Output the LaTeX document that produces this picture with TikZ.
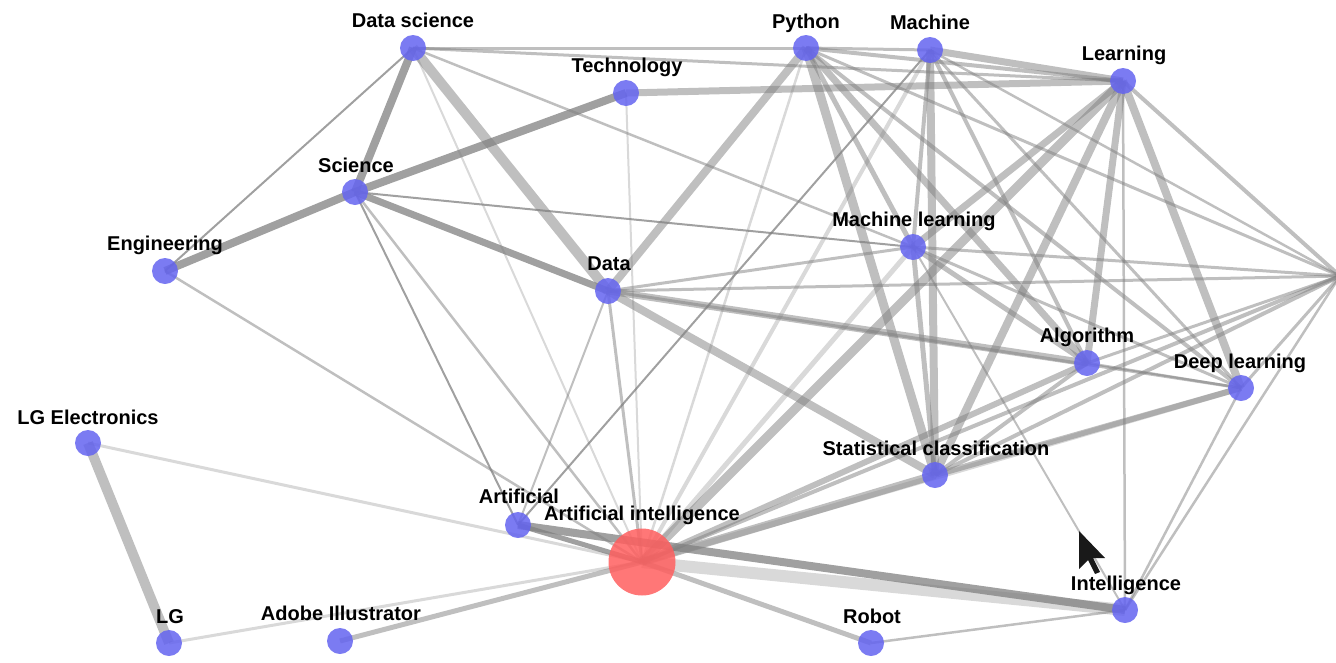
\documentclass[tikz,border=0pt]{standalone}
\usepackage{fontspec}
\setmainfont{Liberation Sans}
\usetikzlibrary{backgrounds}
\definecolor{kwblue}{RGB}{100,100,240}
\definecolor{aired}{RGB}{255,95,95}
\definecolor{linkgray}{RGB}{128,128,128}
\begin{document}
\begin{tikzpicture}[x=1pt,y=-1pt,
  kw/.style={circle,fill=kwblue,fill opacity=.85,minimum size=26pt,inner sep=0pt},
  hub/.style={circle,fill=aired,fill opacity=.85,minimum size=67pt,inner sep=0pt},
  lbl/.style={font=\bfseries\fontsize{20}{24}\selectfont,anchor=base,inner sep=0pt,text=black},
  lite/.style={draw=linkgray,draw opacity=.5,line width=#1pt},
  dark/.style={draw=linkgray,draw opacity=.75,line width=#1pt},
  faint/.style={draw=linkgray,draw opacity=.3,line width=#1pt},
  pointer/.style={fill=black!90,draw=none}]
\useasboundingbox (0,0) rectangle (1336,662);

% keyword nodes
\node[kw] (DS) at (413,48) {};
\node[kw] (TE) at (626,93) {};
\node[kw] (SC) at (355,192) {};
\node[kw] (EN) at (165,271) {};
\node[kw] (LGE) at (88,443) {};
\node[kw] (PY) at (806,48) {};
\node[kw] (MA) at (930,50) {};
\node[kw] (LE) at (1123,81) {};
\node[kw] (ML) at (913,247) {};
\node[kw] (DA) at (608,291) {};
\node[kw] (AL) at (1087,363) {};
\node[kw] (DL) at (1241,388) {};
\node[kw] (ST) at (935,475) {};
\node[kw] (AR) at (518,525) {};
\node[kw] (IN) at (1125,610) {};
\node[kw] (RO) at (871,643) {};
\node[kw] (LG) at (169,643) {};
\node[kw] (AD) at (340,641) {};
\node[hub] (AI) at (642,562) {};
\coordinate (RT) at (1340,276);

% labels
\node[lbl] (DS-t) at (413,27) {Data science};
\node[lbl] (TE-t) at (627,72) {Technology};
\node[lbl] (SC-t) at (356,172) {Science};
\node[lbl] (EN-t) at (165,250) {Engineering};
\node[lbl] (LGE-t) at (88,424) {LG Electronics};
\node[lbl] (PY-t) at (806,28) {Python};
\node[lbl] (MA-t) at (930,29) {Machine};
\node[lbl] (LE-t) at (1124,60) {Learning};
\node[lbl] (ML-t) at (914,226) {Machine learning};
\node[lbl] (DA-t) at (609,270) {Data};
\node[lbl] (AL-t) at (1087,342) {Algorithm};
\node[lbl] (DL-t) at (1240,368) {Deep learning};
\node[lbl] (ST-t) at (936,455) {Statistical classification};
\node[lbl] (AR-t) at (519,503) {Artificial};
\node[lbl] (AI-t) at (642,520) {Artificial intelligence};
\node[lbl] (IN-t) at (1126,590) {Intelligence};
\node[lbl] (RO-t) at (872,623) {Robot};
\node[lbl] (LG-t) at (170,623) {LG};
\node[lbl] (AD-t) at (341,620) {Adobe Illustrator};

% links, drawn behind the nodes
\begin{pgfonlayer}{background}
\clip (0,0) rectangle (1336,662);
\foreach \a/\b/\w in {
  DS/DA/10, DS/PY/3, DS/LE/3, DS/ML/2.5,
  TE/LE/7, SC/AI/2.5, EN/AI/2.5,
  DA/PY/8, DA/ML/3, DA/RT/3, DA/AL/7, DA/DL/3, DA/ST/8, DA/AR/2, DA/AI/3,
  PY/MA/3, PY/LE/4, PY/ST/9, PY/AL/7, PY/ML/5, PY/DL/4, PY/RT/3,
  MA/LE/7, MA/ML/4, MA/ST/8, MA/AL/4, MA/DL/3, MA/RT/2.5,
  LE/ML/7, LE/AI/9, LE/ST/8, LE/AL/7, LE/IN/2.5, LE/DL/8, LE/RT/4,
  ML/AL/5, ML/DL/3, ML/RT/3, ML/ST/5, ML/IN/2,
  AL/DL/2.5, AL/ST/4, AL/AI/6, AL/RT/3,
  DL/ST/6, DL/RT/3, DL/IN/2.5,
  ST/AI/8, ST/RT/4, AI/RT/4, IN/RT/2.5,
  AI/RO/5, RO/IN/2.5, AI/AD/5, LGE/LG/10}
  \draw[lite=\w] (\a.center) -- (\b.center);
\foreach \a/\b/\w in {
  DS/AI/2, TE/AI/2, PY/AI/2.5, MA/AI/4, ML/AI/5, DL/AI/6,
  AI/IN/12, AI/LG/3, AI/LGE/3}
  \draw[faint=\w] (\a.center) -- (\b.center);
\foreach \a/\b/\w in {
  DS/SC/8, DS/EN/2, TE/SC/8, SC/EN/8, SC/DA/7, SC/ML/2, SC/AR/2,
  MA/AR/2, AR/IN/8, AR/AI/5}
  \draw[dark=\w] (\a.center) -- (\b.center);
\end{pgfonlayer}

% mouse pointer
\path[pointer] (1079,531) -- ++(0,38) -- ++(9,-9) -- ++(7,14) -- ++(5,-2)
  -- ++(-7,-14) -- ++(12,0) -- cycle;
\end{tikzpicture}
\end{document}
